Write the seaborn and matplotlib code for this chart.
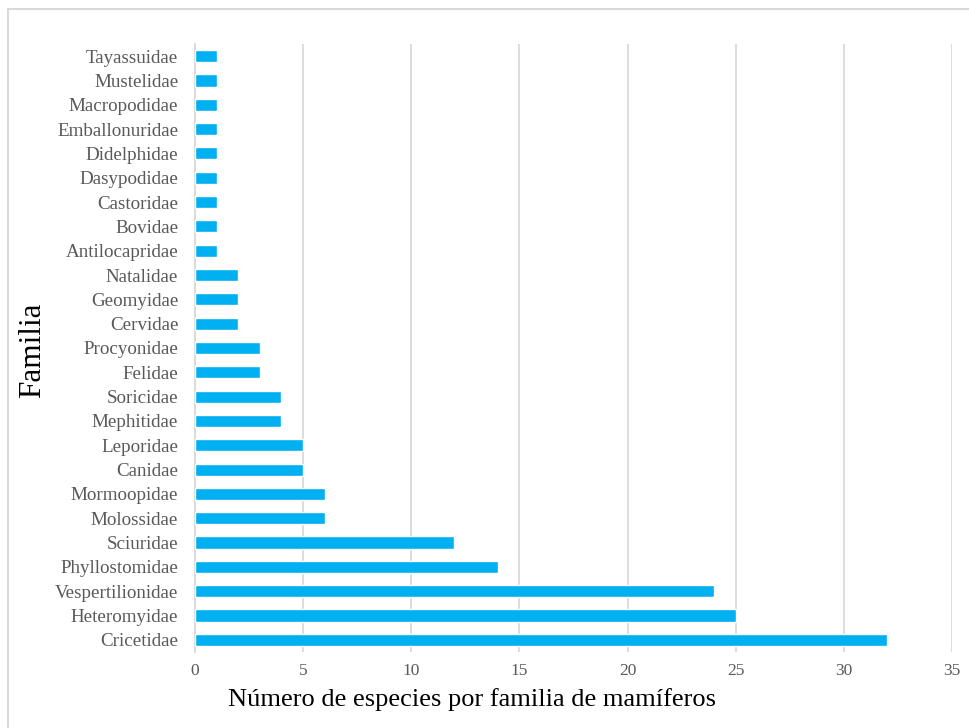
import matplotlib
matplotlib.use("Agg")
import matplotlib.pyplot as plt
from matplotlib.patches import Rectangle
import seaborn as sns
import pandas as pd

# Number of species per mammal family
familias = [
    "Cricetidae", "Heteromyidae", "Vespertilionidae", "Phyllostomidae", "Sciuridae",
    "Molossidae", "Mormoopidae", "Canidae", "Leporidae", "Mephitidae", "Soricidae",
    "Felidae", "Procyonidae", "Cervidae", "Geomyidae", "Natalidae", "Antilocapridae",
    "Bovidae", "Castoridae", "Dasypodidae", "Didelphidae", "Emballonuridae",
    "Macropodidae", "Mustelidae", "Tayassuidae",
]
especies = [32, 25, 24, 14, 12, 6, 6, 5, 5, 4, 4, 3, 3, 2, 2, 2, 1, 1, 1, 1, 1, 1, 1, 1, 1]
xticks = [0, 5, 10, 15, 20, 25, 30, 35]

# top-to-bottom order for the categorical axis
df = pd.DataFrame({"Familia": familias[::-1], "Especies": especies[::-1]})

sns.set_theme(style="white")
plt.rcParams["font.family"] = ["Liberation Serif", "DejaVu Serif"]

fig = plt.figure(figsize=(9.69, 7.28), dpi=100)
ax = fig.add_axes([0.2012, 0.1044, 0.7812, 0.8352])

sns.barplot(data=df, x="Especies", y="Familia", orient="h", color="#00B0F0",
            saturation=1, width=0.5, ax=ax, zorder=3)

ax.set_xlim(0, 35)
ax.set_ylim(len(familias) - 0.5, -0.5)
ax.set_xticks(xticks)
ax.xaxis.grid(True, color="#D9D9D9", linewidth=1.3, zorder=0)
ax.yaxis.grid(False)
for s in ["top", "right", "bottom"]:
    ax.spines[s].set_visible(False)
ax.spines["left"].set_color("#D9D9D9")
ax.spines["left"].set_linewidth(1.3)
ax.tick_params(axis="both", length=0, colors="#595959")
ax.tick_params(axis="x", pad=8, labelsize=12.5)
ax.tick_params(axis="y", pad=12, labelsize=13.7)

ax.set_xlabel("")
ax.set_ylabel("")
fig.text(33 / 969, 1 - 350 / 728, "Familia", rotation=90,
         fontsize=22.5, color="black", ha="center", va="center")
fig.text(472 / 969, 1 - 706 / 728, "Número de especies por familia de mamíferos",
         fontsize=19, color="black", ha="center", va="baseline")

# outer frame of the chart area
fig.patches.append(Rectangle((8 / 969, -0.01), 1.0, 1 - 9 / 728 + 0.01,
                             transform=fig.transFigure, fill=False,
                             edgecolor="#D9D9D9", linewidth=1.5))

fig.savefig("out.png", dpi=100)
